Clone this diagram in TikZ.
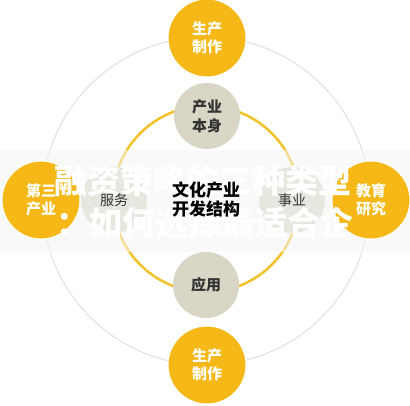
\documentclass[tikz,border=0pt]{standalone}
\usepackage{fontspec}
\setmainfont{Noto Sans CJK SC}
\usetikzlibrary{calc}
\definecolor{goldyellow}{HTML}{F6B816}
\definecolor{ringyellow}{HTML}{F2C229}
\definecolor{stonegray}{HTML}{DAD6C6}
\definecolor{textdark}{HTML}{333333}

\begin{document}
\begin{tikzpicture}[x=1pt,y=-1pt,
	outer/.style={circle,fill=goldyellow,draw=white,line width=1pt,minimum size=78pt,inner sep=0pt,
		text=white,align=center,font=\fontsize{15}{18}\selectfont\bfseries},
	inner/.style={circle,fill=stonegray,minimum size=66pt,inner sep=0pt,
		text=textdark,align=center,font=\fontsize{15}{19}\selectfont\bfseries},
	side/.style={text=textdark,font=\fontsize{14}{16}\selectfont}]
\useasboundingbox (0,0) rectangle (410,405);
\fill[white] (0,0) rectangle (410,405);
% rings
\coordinate (c) at (206,201);
\draw[black!12,line width=1pt] (c) circle[radius=164pt];
\draw[ringyellow,line width=2.5pt] (206,199) circle[radius=93pt];
% inner circles
\node[inner] (ben) at (207,116) {产业\\本身};
\node[inner] (yong) at (206,285) {应用};
\node[inner] (fu) at (114,200) {};
\node[inner] (shi) at (292,200) {};
% band
\fill[black!4,fill opacity=.55] (0,150) rectangle (410,252);
% outer circles
\node[outer] (top) at (207,38) {生产\\制作};
\node[outer] (bot) at (207,365) {生产\\制作};
\node[outer] (left) at (41,200) {第三\\产业};
\node[outer] (right) at (371,200) {教育\\研究};
% title over the band
\node[anchor=west,text=white,inner sep=0pt,font=\fontsize{33}{33}\selectfont\bfseries] (t1) at (54,181) {融资策略的三种类型};
\node[anchor=west,text=white,inner sep=0pt,font=\fontsize{33}{33}\selectfont\bfseries] (t2) at (56,223) {：如何选择最适合企};
% labels
\node[side] (fu-t) at (fu) {服务};
\node[side] (shi-t) at (shi) {事业};
\node[align=center,text=black,font=\fontsize{17}{19}\selectfont\bfseries] (mid) at (206,199) {文化产业\\开发结构};
\end{tikzpicture}
\end{document}
